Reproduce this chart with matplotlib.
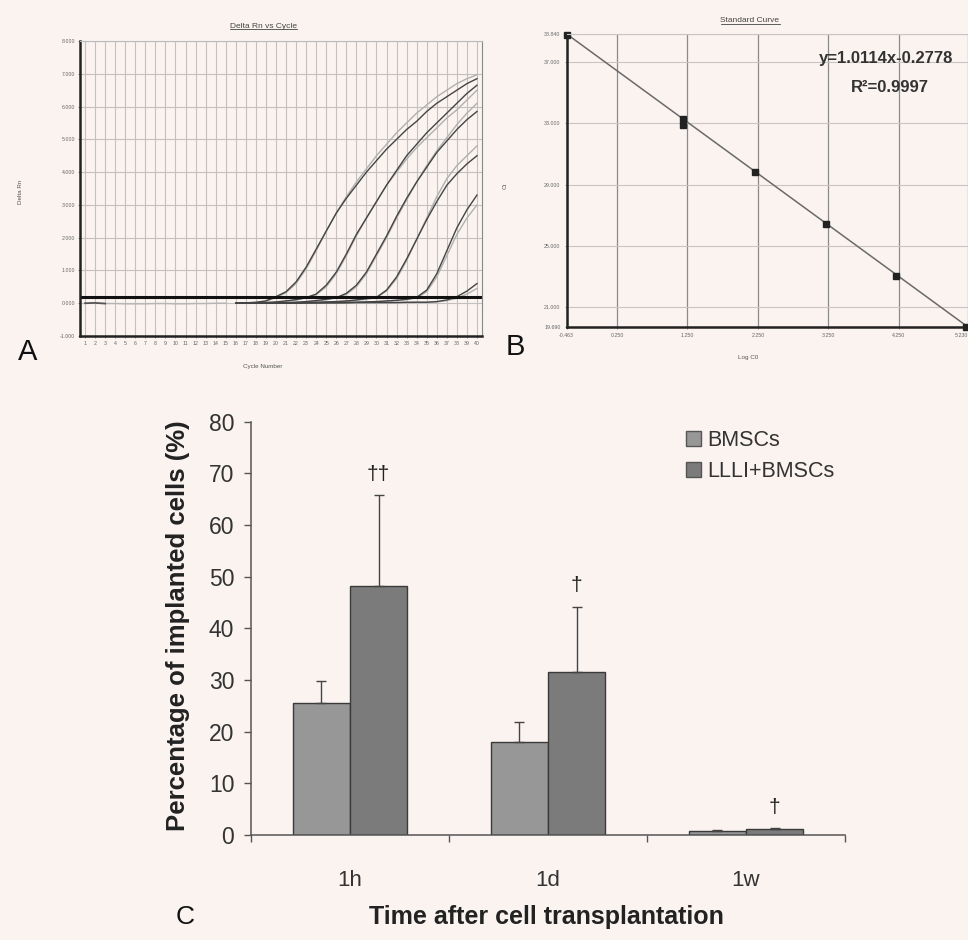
import numpy as np
import matplotlib
matplotlib.use('Agg')
import matplotlib.pyplot as plt
from matplotlib.patches import Patch
from matplotlib.lines import Line2D
from matplotlib.ticker import FormatStrFormatter

plt.rcParams['font.family'] = ['Liberation Sans', 'DejaVu Sans']
plt.rcParams['axes.unicode_minus'] = False

BG = '#faf3f0'
W, H = 968, 940

# ---- panel A : amplification plot (Delta Rn per cycle) ----
early_cycles = list(range(1, 16))
early_rn = [0.0, 0.01, -0.01, -0.01, -0.02, -0.02, -0.02, -0.01, -0.01, -0.02,
            -0.02, -0.01, -0.01, 0.0, 0.0]
cycles = list(range(16, 41))

c1_dark = [0.0, 0.01, 0.03, 0.07, 0.2, 0.35, 0.65, 1.1, 1.65, 2.2, 2.75, 3.2, 3.6,
           4.0, 4.35, 4.7, 5.0, 5.3, 5.55, 5.85, 6.1, 6.3, 6.5, 6.7, 6.85]
c1_light = [0.0, 0.01, 0.02, 0.06, 0.17, 0.32, 0.6, 1.05, 1.6, 2.2, 2.75, 3.25, 3.7,
            4.1, 4.5, 4.85, 5.2, 5.5, 5.8, 6.05, 6.3, 6.5, 6.7, 6.85, 6.97]
c2_dark = [0.0, 0.0, 0.01, 0.02, 0.04, 0.07, 0.11, 0.17, 0.28, 0.55, 0.95, 1.5, 2.1,
           2.6, 3.1, 3.6, 4.05, 4.5, 4.85, 5.2, 5.5, 5.8, 6.1, 6.4, 6.65]
c2_light = [0.0, 0.0, 0.01, 0.02, 0.03, 0.06, 0.1, 0.16, 0.26, 0.5, 0.9, 1.45, 2.05,
            2.6, 3.1, 3.6, 4.0, 4.4, 4.75, 5.05, 5.35, 5.65, 5.9, 6.2, 6.5]
c3_dark = [0.0, 0.0, 0.0, 0.0, 0.01, 0.02, 0.03, 0.05, 0.08, 0.12, 0.17, 0.3, 0.55,
           0.95, 1.5, 2.05, 2.65, 3.2, 3.7, 4.15, 4.6, 4.95, 5.3, 5.6, 5.85]
c3_light = [0.0, 0.0, 0.0, 0.0, 0.01, 0.02, 0.03, 0.05, 0.07, 0.11, 0.16, 0.27, 0.5,
            0.9, 1.45, 2.0, 2.6, 3.15, 3.7, 4.2, 4.65, 5.05, 5.45, 5.8, 6.1]
c4_dark = [0.0, 0.0, 0.0, 0.0, 0.0, 0.01, 0.01, 0.02, 0.03, 0.04, 0.05, 0.07, 0.1,
           0.14, 0.18, 0.4, 0.8, 1.35, 1.95, 2.55, 3.1, 3.6, 3.95, 4.25, 4.5]
c4_light = [0.0, 0.0, 0.0, 0.0, 0.0, 0.01, 0.01, 0.02, 0.03, 0.04, 0.05, 0.06, 0.09,
            0.12, 0.17, 0.37, 0.75, 1.3, 1.95, 2.6, 3.25, 3.8, 4.2, 4.5, 4.8]
c5_dark = [0.0, 0.0, 0.0, 0.0, 0.0, 0.0, 0.01, 0.01, 0.01, 0.02, 0.02, 0.03, 0.03,
           0.04, 0.05, 0.07, 0.09, 0.12, 0.18, 0.4, 0.9, 1.6, 2.3, 2.85, 3.3]
c5_light = [0.0, 0.0, 0.0, 0.0, 0.0, 0.0, 0.01, 0.01, 0.01, 0.02, 0.02, 0.03, 0.03,
            0.04, 0.05, 0.06, 0.08, 0.11, 0.16, 0.35, 0.8, 1.45, 2.1, 2.6, 3.0]
c6_dark = [0.0, 0.0, 0.0, 0.0, 0.0, 0.0, 0.0, 0.01, 0.01, 0.01, 0.01, 0.01, 0.02,
           0.02, 0.02, 0.02, 0.02, 0.03, 0.03, 0.03, 0.05, 0.1, 0.2, 0.37, 0.6]
c6_light = [0.0, 0.0, 0.0, 0.0, 0.0, 0.0, 0.0, 0.0, 0.01, 0.01, 0.01, 0.01, 0.01,
            0.02, 0.02, 0.02, 0.02, 0.02, 0.03, 0.03, 0.04, 0.08, 0.15, 0.28, 0.45]
threshold = 0.2

# ---- panel B : standard curve ----
std_logc0 = [-0.463, 1.18, 1.18, 2.21, 3.21, 4.21, 5.2]
std_ct = [38.8, 33.3, 32.9, 29.8, 26.4, 23.0, 19.7]
fit_x = [-0.463, 5.23]
fit_y = [38.84, 19.69]
b_xticks = [-0.463, 0.25, 1.25, 2.25, 3.25, 4.25, 5.23]
b_yticks = [19.69, 21, 25, 29, 33, 37, 38.84]

# ---- panel C : implanted cells ----
times = ['1h', '1d', '1w']
bmsc = [25.5, 18.0, 0.85]
bmsc_err = [4.4, 3.9, 0.15]
llli = [48.2, 31.5, 1.1]
llli_err = [17.6, 12.7, 0.2]
marks = ['\u2020\u2020', '\u2020', '\u2020']

fig = plt.figure(figsize=(W / 100, H / 100), dpi=100, facecolor=BG)


def frac(x0, y0, x1, y1):
    return [x0 / W, 1 - y1 / H, (x1 - x0) / W, (y1 - y0) / H]


# panel A
axA = fig.add_axes(frac(80, 41, 482, 336))
axA.set_facecolor(BG)
axA.set_xlim(0.5, 40.5)
axA.set_ylim(-1, 8)
axA.set_xticks(range(1, 41))
axA.set_yticks(range(-1, 9))
axA.yaxis.set_major_formatter(FormatStrFormatter('%.3f'))
axA.tick_params(labelsize=3.8, colors='#666', length=1.5, width=0.5, pad=2)
axA.grid(True, color='#c4c0bf', lw=0.8)
axA.set_axisbelow(True)
for s in ['left', 'bottom']:
    axA.spines[s].set_color('#222')
    axA.spines[s].set_linewidth(1.8)
axA.spines['right'].set_color('#888')
axA.spines['top'].set_color('#bbb')

axA.plot(early_cycles[2:], early_rn[2:], color='#b5b5b5', lw=1)
axA.plot(early_cycles[:3], early_rn[:3], color='#555', lw=1.3)
for cv in [c1_light, c2_light, c3_light, c4_light, c5_light, c6_light]:
    axA.plot(cycles, cv, color='#b0b0b0', lw=1.0)
for cv in [c1_dark, c2_dark, c3_dark, c4_dark, c5_dark, c6_dark]:
    axA.plot(cycles, cv, color='#444', lw=1.0)
axA.axhline(threshold, color='#111', lw=2.2)

tA = fig.text(263 / W, 1 - 26 / H, 'Delta Rn vs Cycle', ha='center', va='center',
              fontsize=6, color='#444')
fig.text(20 / W, 1 - 192 / H, 'Delta Rn', rotation=90, ha='center', va='center',
         fontsize=4.5, color='#555')
fig.text(263 / W, 1 - 366 / H, 'Cycle Number', ha='center', va='center',
         fontsize=4.5, color='#555')
fig.text(28 / W, 1 - 352 / H, 'A', ha='center', va='center', fontsize=21, color='#111')

# panel B
axB = fig.add_axes(frac(566.7, 34, 968, 327))
axB.set_facecolor(BG)
axB.set_xlim(fit_x[0], fit_x[1])
axB.set_ylim(fit_y[1], fit_y[0])
axB.set_xticks(b_xticks)
axB.set_yticks(b_yticks)
axB.xaxis.set_major_formatter(FormatStrFormatter('%.3f'))
axB.yaxis.set_major_formatter(FormatStrFormatter('%.3f'))
axB.tick_params(labelsize=3.8, colors='#666', length=1.5, width=0.5, pad=3)
axB.get_xticklabels()[-1].set_horizontalalignment('right')
axB.grid(True, axis='y', color='#c8c4c3', lw=0.8)
axB.grid(True, axis='x', color='#8a8a8a', lw=0.9)
axB.set_axisbelow(True)
for s in ['left', 'bottom']:
    axB.spines[s].set_color('#222')
    axB.spines[s].set_linewidth(1.8)
axB.spines['top'].set_color('#c8c4c3')
axB.spines['right'].set_visible(False)
axB.plot(fit_x, fit_y, color='#6a6a6a', lw=1.1)
axB.plot(std_logc0, std_ct, ls='none', marker='s', ms=4, color='#222', clip_on=False)
axB.text(0.796, 0.918, 'y=1.0114x-0.2778', transform=axB.transAxes, ha='center',
         va='center', fontsize=12, fontweight='bold', color='#333')
axB.text(0.805, 0.816, 'R\u00b2=0.9997', transform=axB.transAxes, ha='center',
         va='center', fontsize=12, fontweight='bold', color='#333')

tB = fig.text(750 / W, 1 - 21 / H, 'Standard Curve', ha='center', va='center',
              fontsize=6, color='#444')
fig.text(505 / W, 1 - 186 / H, 'Ct', rotation=90, ha='center', va='center',
         fontsize=4.5, color='#555')
fig.text(748 / W, 1 - 357 / H, 'Log C0', ha='center', va='center',
         fontsize=4.5, color='#555')
fig.text(515 / W, 1 - 347 / H, 'B', ha='center', va='center', fontsize=21, color='#111')

# panel C
axC = fig.add_axes(frac(251, 421.7, 845, 835))
axC.set_facecolor(BG)
idx = np.arange(len(times)) + 0.5
bw = 0.288
axC.bar(idx - bw / 2, bmsc, bw, color='#979797', edgecolor='#3a3a3a', lw=1,
        label='BMSCs', zorder=2)
axC.bar(idx + bw / 2, llli, bw, color='#7b7b7b', edgecolor='#3a3a3a', lw=1,
        label='LLLI+BMSCs', zorder=2)
axC.errorbar(idx - bw / 2, bmsc, yerr=[np.zeros(3), bmsc_err], fmt='none',
             ecolor='#444', elinewidth=1, capsize=3.5, capthick=1, zorder=3)
axC.errorbar(idx + bw / 2, llli, yerr=[np.zeros(3), llli_err], fmt='none',
             ecolor='#444', elinewidth=1, capsize=3.5, capthick=1, zorder=3)
for x, v, e, m in zip(idx + bw / 2, llli, llli_err, marks):
    axC.text(x, v + e + 2.2, m, ha='center', va='bottom', fontsize=15, color='#222')

axC.set_xlim(0, 3)
axC.set_ylim(0, 80)
axC.set_yticks(range(0, 81, 10))
axC.set_xticks(idx)
axC.set_xticklabels(times)
axC.set_xticks(range(0, 4), minor=True)
axC.tick_params(axis='x', which='major', length=0, pad=25, labelsize=16, labelcolor='#333')
axC.tick_params(axis='x', which='minor', length=5, width=1, color='#555', direction='out')
axC.tick_params(axis='y', length=5, width=1, color='#555', pad=7, labelsize=16.5,
                labelcolor='#333')
for s in ['top', 'right']:
    axC.spines[s].set_visible(False)
for s in ['left', 'bottom']:
    axC.spines[s].set_color('#555')
    axC.spines[s].set_linewidth(1.1)

fig.text(178 / W, 1 - 626 / H, 'Percentage of implanted cells (%)', rotation=90,
         ha='center', va='center', fontsize=18.5, fontweight='bold', color='#222')
fig.text(546 / W, 1 - 917 / H, 'Time after cell transplantation', ha='center',
         va='center', fontsize=18, fontweight='bold', color='#222')
fig.text(185 / W, 1 - 917 / H, 'C', ha='center', va='center', fontsize=19, color='#111')

handles = [Patch(facecolor='#979797', edgecolor='#555', label='BMSCs'),
           Patch(facecolor='#7b7b7b', edgecolor='#555', label='LLLI+BMSCs')]
fig.legend(handles=handles, loc='upper left', bbox_to_anchor=(686 / W, 1 - 430 / H),
           frameon=False, fontsize=15.5, borderpad=0, borderaxespad=0,
           handlelength=0.7, handleheight=0.7, handletextpad=0.3,
           labelspacing=0.45, labelcolor='#333')

# underline the two small panel titles
fig.canvas.draw()
rend = fig.canvas.get_renderer()
for t in [tA, tB]:
    bb = t.get_window_extent(rend)
    p = fig.transFigure.inverted().transform([[bb.x0, bb.y0 + 0.5], [bb.x1, bb.y0 + 0.5]])
    fig.add_artist(Line2D(p[:, 0], p[:, 1], color='#444', lw=0.6,
                          transform=fig.transFigure))

fig.savefig('out.png', dpi=100, facecolor=BG)
